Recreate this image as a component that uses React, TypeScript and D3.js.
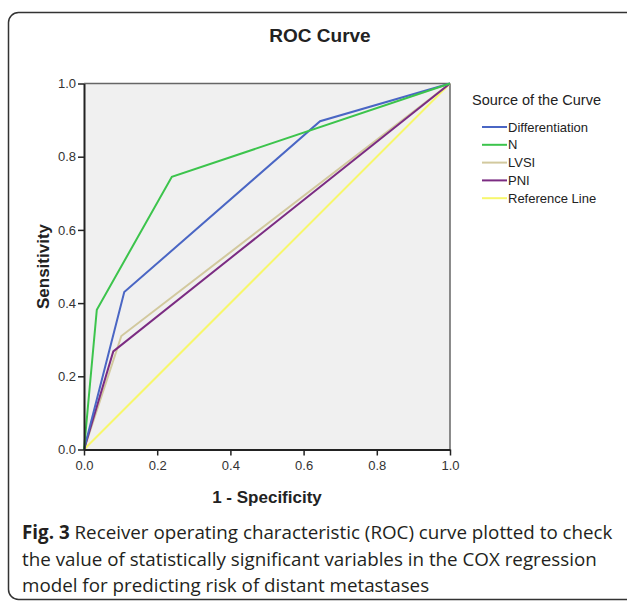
import React from "react";
import * as d3 from "d3";

// ROC points per series: [1 - specificity, sensitivity]
const seriesNames = ["Differentiation", "N", "LVSI", "PNI", "Reference Line"];
const differentiation: [number, number][] = [[0, 0], [0.11, 0.43], [0.645, 0.897], [1, 1]];
const nStage: [number, number][] = [[0, 0], [0.035, 0.382], [0.24, 0.745], [1, 1]];
const lvsi: [number, number][] = [[0, 0], [0.102, 0.31], [1, 1]];
const pni: [number, number][] = [[0, 0], [0.08, 0.268], [1, 1]];
const referenceLine: [number, number][] = [[0, 0], [1, 1]];
const seriesColors = ["#4a66c4", "#3cc44c", "#d2c99e", "#7b2c82", "#f7f76c"];
const tickValues = [0, 0.2, 0.4, 0.6, 0.8, 1.0];
const captionLines = [
  "Receiver operating characteristic (ROC) curve plotted to check",
  "the value of statistically significant variables in the COX regression",
  "model for predicting risk of distant metastases",
];

const App = () => {
  const ref = React.useRef<SVGSVGElement>(null);

  React.useEffect(() => {
    const svg = d3.select(ref.current);
    svg.selectAll("*").remove();

    const font = "Arial, 'Liberation Sans', sans-serif";
    const x = d3.scaleLinear().domain([0, 1]).range([84, 450]);
    const y = d3.scaleLinear().domain([0, 1]).range([449.5, 83.5]);

    // outer frame
    svg.append("rect")
      .attr("x", 8.5).attr("y", 12.5)
      .attr("width", 650).attr("height", 587)
      .attr("rx", 10)
      .attr("fill", "white")
      .attr("stroke", "#333").attr("stroke-width", 1.5);

    svg.append("text")
      .attr("x", 320).attr("y", 42)
      .attr("text-anchor", "middle")
      .attr("font-family", font).attr("font-size", "19px")
      .attr("font-weight", "bold")
      .attr("fill", "#222")
      .text("ROC Curve");

    // plot background
    svg.append("rect")
      .attr("x", x(0)).attr("y", y(1))
      .attr("width", x(1) - x(0)).attr("height", y(0) - y(1))
      .attr("fill", "#f0f0f0");
    svg.append("line")
      .attr("x1", x(0)).attr("x2", x(1)).attr("y1", y(1)).attr("y2", y(1))
      .attr("stroke", "#666").attr("stroke-width", 1.5);
    svg.append("line")
      .attr("x1", x(1)).attr("x2", x(1)).attr("y1", y(1)).attr("y2", y(0))
      .attr("stroke", "#666").attr("stroke-width", 1.5);

    // curves
    const line = d3.line<[number, number]>().x(d => x(d[0])).y(d => y(d[1]));
    const allSeries = [referenceLine, lvsi, pni, differentiation, nStage];
    const order = [4, 2, 3, 0, 1];
    allSeries.forEach((s, i) => {
      svg.append("path")
        .attr("d", line(s))
        .attr("fill", "none")
        .attr("stroke", seriesColors[order[i]])
        .attr("stroke-width", 2);
    });

    // axes
    const xAxis = svg.append("g")
      .attr("transform", `translate(0,${y(0)})`)
      .call(d3.axisBottom(x).tickValues(tickValues).tickFormat(d3.format(".1f")).tickSize(6).tickSizeOuter(0));
    const yAxis = svg.append("g")
      .attr("transform", `translate(${x(0)},0)`)
      .call(d3.axisLeft(y).tickValues(tickValues).tickFormat(d3.format(".1f")).tickSize(6).tickSizeOuter(0));
    [xAxis, yAxis].forEach(a => {
      a.select(".domain").attr("stroke", "#222").attr("stroke-width", 2);
      a.selectAll(".tick line").attr("stroke", "#222").attr("stroke-width", 1.5);
      a.selectAll(".tick text")
        .attr("font-family", font).attr("font-size", "13px").attr("fill", "#333");
    });
    xAxis.selectAll(".tick text").attr("dy", "0.85em");
    yAxis.selectAll(".tick text").attr("x", -8);

    svg.append("text")
      .attr("x", 267).attr("y", 503)
      .attr("text-anchor", "middle")
      .attr("font-family", font).attr("font-size", "17px").attr("font-weight", "bold")
      .attr("fill", "#222")
      .text("1 - Specificity");
    svg.append("text")
      .attr("transform", `translate(49,${(y(0) + y(1)) / 2}) rotate(-90)`)
      .attr("text-anchor", "middle")
      .attr("font-family", font).attr("font-size", "17px").attr("font-weight", "bold")
      .attr("fill", "#222")
      .text("Sensitivity");

    // legend
    const legend = svg.append("g");
    legend.append("text")
      .attr("x", 472).attr("y", 105)
      .attr("font-family", font).attr("font-size", "14.5px").attr("fill", "#222")
      .text("Source of the Curve");
    seriesNames.forEach((name, i) => {
      const ly = 127 + i * 17.8;
      legend.append("line")
        .attr("x1", 482).attr("x2", 507).attr("y1", ly).attr("y2", ly)
        .attr("stroke", seriesColors[i]).attr("stroke-width", 2);
      legend.append("text")
        .attr("x", 508).attr("y", ly + 4.6)
        .attr("font-family", font).attr("font-size", "13px").attr("fill", "#222")
        .text(name);
    });

    // caption
    const cap = svg.append("text")
      .attr("font-family", "'Open Sans', sans-serif").attr("font-size", "18.8px")
      .attr("fill", "#231f20");
    captionLines.forEach((t, i) => {
      const tl = cap.append("tspan").attr("x", 22).attr("y", 539 + i * 26.5);
      if (i === 0) {
        tl.append("tspan").attr("font-weight", "bold").text("Fig. 3 ");
      }
      tl.append("tspan").text(t);
    });
  }, []);

  return (
    <svg ref={ref} width={627} height={605}
      style={{ position: "absolute", left: 0, top: 0, background: "white" }} />
  );
};

export default App;
